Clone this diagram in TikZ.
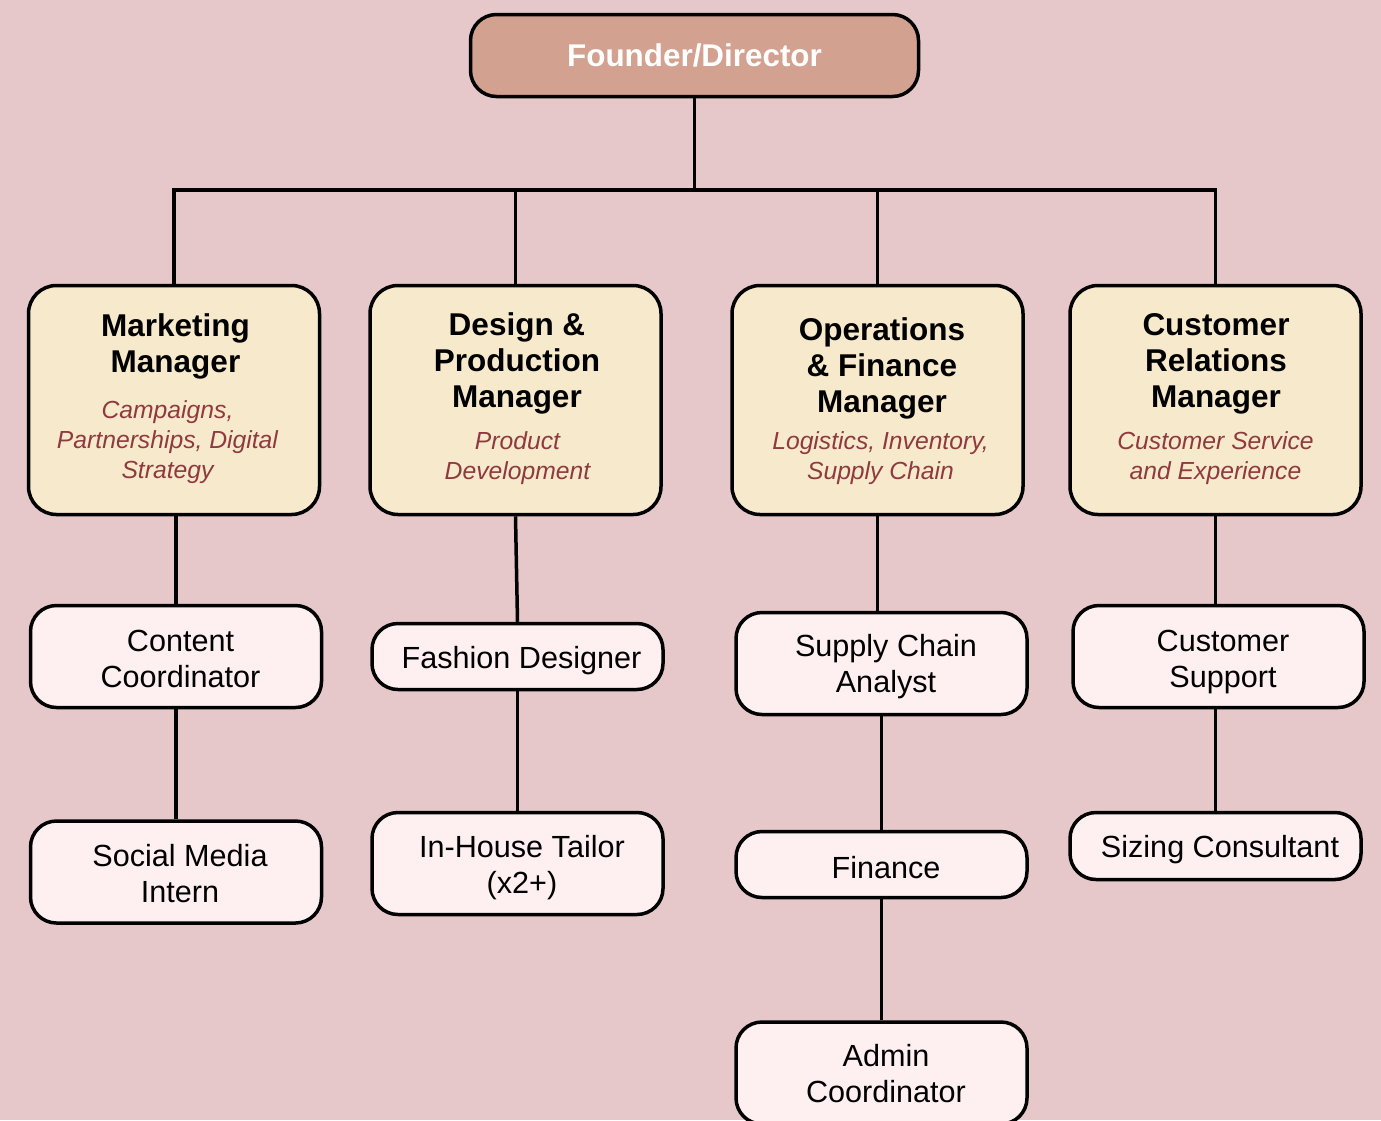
\documentclass[tikz,border=0pt]{standalone}
\usepackage{fontspec}
\setmainfont{Liberation Sans}
\definecolor{pagebg}{HTML}{E6C8CA}
\definecolor{topfill}{HTML}{D3A190}
\definecolor{mgrfill}{HTML}{F7E9CC}
\definecolor{subfill}{HTML}{FEEFF0}
\definecolor{remit}{HTML}{8F3A3F}
\begin{document}
\begin{tikzpicture}[x=1pt,y=-1pt,
  box/.style={draw=black, line width=3.5pt, rectangle, rounded corners=26pt, inner sep=0pt},
  topbox/.style={box, fill=topfill, minimum width=448pt, minimum height=82pt,
    text=white, font=\fontsize{31.4}{36}\selectfont\bfseries},
  mgrbox/.style={box, fill=mgrfill, minimum width=291pt, minimum height=229pt, rounded corners=28pt},
  subbox/.style={box, fill=subfill, minimum width=291pt, minimum height=102pt},
  lowbox/.style={subbox, minimum height=66pt},
  titletext/.style={align=center, inner sep=0pt, font=\fontsize{31.5}{36}\selectfont\bfseries},
  remittext/.style={align=center, inner sep=0pt, text=remit, font=\fontsize{24.7}{30}\selectfont\itshape},
  roletext/.style={align=center, inner sep=0pt, font=\fontsize{30.6}{36}\selectfont},
  link/.style={line width=3.5pt}]

\useasboundingbox (0,0) rectangle (1381,1120);
\fill[pagebg] (0,0) rectangle (1381,1120);
\clip (0,0) rectangle (1381,1120);

\coordinate (bus) at (694.5,190);

% top of the hierarchy
\node[topbox] (founder) at (694.5,55.5) {Founder/Director};

% managers
\node[mgrbox] (mk) at (174,400) {};
\node[mgrbox] (dp) at (515.5,400) {};
\node[mgrbox] (of) at (877.5,400) {};
\node[mgrbox] (cr) at (1215.5,400) {};

\node[titletext] (mkT) at (175.5,346) {Marketing\\Manager};
\node[remittext] (mkR) at (167.5,442) {Campaigns,\\Partnerships, Digital\\Strategy};
\node[titletext] (dpT) at (517,363.5) {Design \&\\Production\\Manager};
\node[remittext] (dpR) at (517.5,458) {Product\\Development};
\node[titletext] (ofT) at (882,368.5) {Operations\\\& Finance\\Manager};
\node[remittext] (ofR) at (880.5,458) {Logistics, Inventory,\\Supply Chain};
\node[titletext] (crT) at (1216,363.5) {Customer\\Relations\\Manager};
\node[remittext] (crR) at (1215.5,458) {Customer Service\\and Experience};

% staff
\node[subbox] (cc) at (176,656.5) {};
\node[subbox] (sm) at (176,872) {};
\node[lowbox] (fd) at (517.5,656.5) {};
\node[subbox] (ht) at (517.5,863.5) {};
\node[subbox] (sc) at (881.5,663.5) {};
\node[lowbox] (fi) at (881.5,864.5) {};
\node[subbox] (ac) at (881.5,1073) {};
\node[subbox] (cs) at (1218.5,656.5) {};
\node[lowbox, minimum height=67pt] (sz) at (1215.5,846) {};

\node[roletext] (ccT) at (180.5,658.5) {Content\\Coordinator};
\node[roletext] (smT) at (180,873.5) {Social Media\\Intern};
\node[roletext] (fdT) at (521.5,660.5) {Fashion Designer};
\node[roletext] (htT) at (522,867.5) {In-House Tailor\\(x2+)};
\node[roletext] (scT) at (886,666.5) {Supply Chain\\Analyst};
\node[roletext] (fiT) at (886,867.5) {Finance};
\node[roletext] (acT) at (886,1074) {Admin\\Coordinator};
\node[roletext] (csT) at (1223,661.5) {Customer\\Support};
\node[roletext] (szT) at (1220,849.5) {Sizing Consultant};

% reporting lines
\draw[link] (mk.north) -- (mk.north |- bus) -- (cr.north |- bus) -- (cr.north);
\draw[link] (founder.south) -- (bus);
\draw[link] (dp.north) -- (dp.north |- bus);
\draw[link] (of.north) -- (of.north |- bus);

\draw[link] (cc.north |- mk.south) -- (cc.north);
\draw[link] (cc.south) -- (sm.north);
\draw[link] (dp.south) -- (fd.north);
\draw[link] (fd.south) -- (ht.north);
\draw[link] (of.south) -- (of.south |- sc.north);
\draw[link] (fi.north |- sc.south) -- (fi.north);
\draw[link] (fi.south) -- (ac.north);
\draw[link] (cr.south) -- (cr.south |- cs.north);
\draw[link] (sz.north |- cs.south) -- (sz.north);
\end{tikzpicture}
\end{document}
